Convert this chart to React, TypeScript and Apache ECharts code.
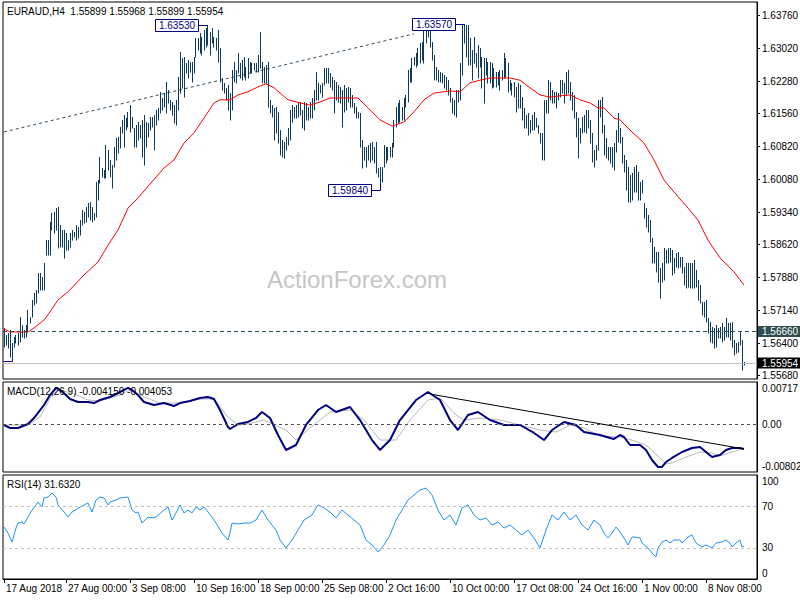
import React, { useEffect, useRef } from 'react';
import * as echarts from 'echarts';

// ---------- texts ----------
const symbolTitle = 'EURAUD,H4';
const lastOHLC = ['1.55899', '1.55968', '1.55899', '1.55954'];
const macdTitle = 'MACD(12,26,9)';
const macdLast = ['-0.004150', '-0.004053'];
const rsiTitle = 'RSI(14)';
const rsiLast = '31.6320';
const watermark = 'ActionForex.com';

// ---------- x axis ----------
const slotCount = 377;
const xLabelIndex = [0, 31, 63, 95, 127, 159, 191, 223, 255, 287, 319, 351];
const xLabels = ['17 Aug 2018', '27 Aug 00:00', '3 Sep 08:00', '10 Sep 16:00', '18 Sep 00:00', '25 Sep 08:00',
  '2 Oct 16:00', '10 Oct 00:00', '17 Oct 08:00', '24 Oct 16:00', '1 Nov 00:00', '8 Nov 08:00'];

// ---------- price panel ----------
const priceTicks = [1.6376, 1.6302, 1.6228, 1.6156, 1.6082, 1.6008, 1.5934, 1.5862, 1.5788, 1.5714, 1.5640, 1.5568];
const priceMin = 1.55595;
const priceMax = 1.64055;
const levelPrice = 1.5666;
const bidPrice = 1.55954;

const highs = [
  1.5674, 1.5658, 1.5663, 1.5670, 1.5640, 1.5654, 1.5658, 1.5663, 1.5699, 1.5681,
  1.5670, 1.5681, 1.5714, 1.5699, 1.5737, 1.5753, 1.5759, 1.5797, 1.5797, 1.5788,
  1.5820, 1.5871, 1.5871, 1.5912, 1.5932, 1.5934, 1.5943, 1.5945, 1.5905, 1.5894,
  1.5894, 1.5887, 1.5871, 1.5887, 1.5894, 1.5889, 1.5905, 1.5901, 1.5916, 1.5939,
  1.5934, 1.5945, 1.5954, 1.5957, 1.5945, 1.5932, 1.6002, 1.6006, 1.6058, 1.6033,
  1.6029, 1.6085, 1.6073, 1.6051, 1.6040, 1.6080, 1.6100, 1.6103, 1.6125, 1.6141,
  1.6152, 1.6145, 1.6159, 1.6174, 1.6147, 1.6123, 1.6129, 1.6136, 1.6129, 1.6141,
  1.6152, 1.6136, 1.6134, 1.6147,
  1.6147, 1.6152, 1.6163, 1.6168, 1.6204, 1.6190, 1.6201, 1.6226, 1.6208, 1.6186,
  1.6181, 1.6174, 1.6186, 1.6237, 1.6293, 1.6280, 1.6282, 1.6269, 1.6275, 1.6271,
  1.6271, 1.6282, 1.6325, 1.6325, 1.6336, 1.6327, 1.6343, 1.6347, 1.6353, 1.6338,
  1.6347, 1.6327, 1.6325, 1.6343, 1.6302, 1.6235, 1.6224, 1.6213, 1.6219, 1.6201,
  1.6253, 1.6271, 1.6253, 1.6291, 1.6269, 1.6275, 1.6282, 1.6260, 1.6280, 1.6271,
  1.6269, 1.6269, 1.6269, 1.6287, 1.6338, 1.6271, 1.6260, 1.6264, 1.6271, 1.6186,
  1.6174, 1.6168, 1.6170, 1.6159, 1.6118, 1.6096, 1.6091, 1.6103, 1.6123, 1.6163,
  1.6174, 1.6170, 1.6174, 1.6179, 1.6181,
  1.6163, 1.6181, 1.6179, 1.6170, 1.6181, 1.6190, 1.6208, 1.6248, 1.6224, 1.6219,
  1.6224, 1.6257, 1.6257, 1.6257, 1.6246, 1.6237, 1.6230, 1.6226, 1.6219, 1.6215,
  1.6208, 1.6219, 1.6213, 1.6215, 1.6213, 1.6197, 1.6179, 1.6170, 1.6159, 1.6156,
  1.6096, 1.6080, 1.6080, 1.6085, 1.6089, 1.6091, 1.6080, 1.6091, 1.6033, 1.6035,
  1.6035, 1.6085, 1.6080, 1.6080, 1.6080, 1.6089, 1.6141, 1.6170, 1.6179, 1.6186,
  1.6170, 1.6190, 1.6197, 1.6253, 1.6257, 1.6280, 1.6282, 1.6291, 1.6302, 1.6314,
  1.6316, 1.6354, 1.6355, 1.6354, 1.6349, 1.6316, 1.6287, 1.6260, 1.6253, 1.6248,
  1.6246, 1.6242, 1.6237, 1.6230, 1.6213,
  1.6190, 1.6186, 1.6208, 1.6208, 1.6269, 1.6355, 1.6357, 1.6355, 1.6355, 1.6325,
  1.6298, 1.6327, 1.6291, 1.6309, 1.6302, 1.6282, 1.6280, 1.6280, 1.6271, 1.6271,
  1.6269, 1.6257, 1.6248, 1.6248, 1.6253, 1.6253, 1.6291, 1.6280, 1.6269, 1.6230,
  1.6224, 1.6226, 1.6215, 1.6224, 1.6219, 1.6192, 1.6168, 1.6152, 1.6156, 1.6141,
  1.6152, 1.6159, 1.6145, 1.6129, 1.6112, 1.6112, 1.6186, 1.6186, 1.6230, 1.6226,
  1.6208, 1.6204, 1.6204, 1.6201, 1.6230, 1.6230, 1.6224, 1.6248, 1.6253, 1.6226,
  1.6204, 1.6197, 1.6159, 1.6145, 1.6123, 1.6147, 1.6152, 1.6163, 1.6163, 1.6141,
  1.6112, 1.6073, 1.6085, 1.6186, 1.6186,
  1.6192, 1.6129, 1.6100, 1.6080, 1.6080, 1.6080, 1.6089, 1.6118, 1.6156, 1.6123,
  1.6103, 1.6062, 1.6051, 1.6035, 1.6017, 1.6022, 1.6035, 1.6040, 1.6024, 1.6002,
  1.6006, 1.5954, 1.5943, 1.5928, 1.5916, 1.5876, 1.5856, 1.5845, 1.5845, 1.5809,
  1.5820, 1.5853, 1.5849, 1.5853, 1.5853, 1.5849, 1.5831, 1.5842, 1.5845, 1.5833,
  1.5833, 1.5811, 1.5820, 1.5820, 1.5820, 1.5820, 1.5827, 1.5804, 1.5782, 1.5770,
  1.5732, 1.5732, 1.5737, 1.5696, 1.5687, 1.5676, 1.5674, 1.5681, 1.5674, 1.5676,
  1.5685, 1.5676, 1.5696, 1.5685, 1.5685, 1.5687, 1.5647, 1.5640, 1.5643, 1.5665,
  1.5647, 1.5597,
];

const lows = [
  1.5631, 1.5636, 1.5629, 1.5609, 1.5602, 1.5631, 1.5640, 1.5636, 1.5643, 1.5654,
  1.5652, 1.5654, 1.5665, 1.5685, 1.5699, 1.5726, 1.5730, 1.5753, 1.5759, 1.5759,
  1.5759, 1.5838, 1.5838, 1.5838, 1.5894, 1.5887, 1.5894, 1.5853, 1.5856, 1.5856,
  1.5831, 1.5849, 1.5849, 1.5856, 1.5871, 1.5878, 1.5871, 1.5876, 1.5883, 1.5905,
  1.5910, 1.5912, 1.5923, 1.5916, 1.5912, 1.5916, 1.5923, 1.5961, 1.5999, 1.6013,
  1.6011, 1.6011, 1.6029, 1.6013, 1.5988, 1.6035, 1.6051, 1.6067, 1.6078, 1.6112,
  1.6080, 1.6118, 1.6125, 1.6114, 1.6123, 1.6080, 1.6080, 1.6096, 1.6100, 1.6058,
  1.6040, 1.6080, 1.6103, 1.6118,
  1.6125, 1.6073, 1.6129, 1.6141, 1.6156, 1.6163, 1.6170, 1.6156, 1.6179, 1.6163,
  1.6152, 1.6134, 1.6129, 1.6163, 1.6201, 1.6213, 1.6192, 1.6246, 1.6235, 1.6248,
  1.6226, 1.6246, 1.6282, 1.6298, 1.6291, 1.6287, 1.6298, 1.6305, 1.6309, 1.6287,
  1.6313, 1.6305, 1.6298, 1.6271, 1.6226, 1.6208, 1.6201, 1.6186, 1.6163, 1.6141,
  1.6163, 1.6226, 1.6224, 1.6246, 1.6235, 1.6230, 1.6237, 1.6230, 1.6235, 1.6246,
  1.6246, 1.6253, 1.6248, 1.6248, 1.6257, 1.6224, 1.6224, 1.6224, 1.6170, 1.6156,
  1.6147, 1.6096, 1.6112, 1.6089, 1.6062, 1.6058, 1.6055, 1.6073, 1.6085, 1.6096,
  1.6136, 1.6145, 1.6145, 1.6147, 1.6152,
  1.6123, 1.6118, 1.6141, 1.6141, 1.6145, 1.6145, 1.6163, 1.6186, 1.6186, 1.6201,
  1.6192, 1.6219, 1.6224, 1.6224, 1.6215, 1.6208, 1.6156, 1.6186, 1.6181, 1.6179,
  1.6125, 1.6159, 1.6163, 1.6181, 1.6170, 1.6170, 1.6156, 1.6145, 1.6145, 1.6080,
  1.6033, 1.6051, 1.6035, 1.6051, 1.6046, 1.6051, 1.6044, 1.6022, 1.6013, 1.5999,
  1.6002, 1.6035, 1.6044, 1.6051, 1.6058, 1.6058, 1.6080, 1.6125, 1.6134, 1.6136,
  1.6141, 1.6141, 1.6170, 1.6181, 1.6226, 1.6226, 1.6264, 1.6260, 1.6264, 1.6269,
  1.6275, 1.6269, 1.6314, 1.6327, 1.6305, 1.6275, 1.6230, 1.6230, 1.6226, 1.6226,
  1.6224, 1.6213, 1.6208, 1.6197, 1.6181,
  1.6156, 1.6152, 1.6147, 1.6181, 1.6186, 1.6242, 1.6314, 1.6282, 1.6264, 1.6264,
  1.6230, 1.6269, 1.6260, 1.6235, 1.6260, 1.6213, 1.6179, 1.6242, 1.6224, 1.6224,
  1.6213, 1.6215, 1.6215, 1.6219, 1.6208, 1.6230, 1.6235, 1.6237, 1.6204, 1.6208,
  1.6197, 1.6192, 1.6159, 1.6168, 1.6168, 1.6141, 1.6123, 1.6123, 1.6107, 1.6112,
  1.6118, 1.6118, 1.6125, 1.6112, 1.6089, 1.6051, 1.6051, 1.6156, 1.6156, 1.6186,
  1.6179, 1.6179, 1.6168, 1.6186, 1.6192, 1.6201, 1.6179, 1.6197, 1.6201, 1.6186,
  1.6163, 1.6145, 1.6103, 1.6055, 1.6089, 1.6112, 1.6114, 1.6112, 1.6123, 1.6089,
  1.6046, 1.6035, 1.6051, 1.6073, 1.6147,
  1.6112, 1.6062, 1.6055, 1.6051, 1.6044, 1.6035, 1.6029, 1.6069, 1.6091, 1.6089,
  1.6044, 1.6024, 1.5984, 1.5957, 1.5957, 1.5961, 1.5979, 1.5979, 1.5961, 1.5961,
  1.5977, 1.5921, 1.5901, 1.5889, 1.5867, 1.5820, 1.5820, 1.5800, 1.5777, 1.5741,
  1.5777, 1.5782, 1.5820, 1.5820, 1.5822, 1.5793, 1.5797, 1.5811, 1.5809, 1.5811,
  1.5797, 1.5770, 1.5764, 1.5766, 1.5764, 1.5764, 1.5764, 1.5766, 1.5737, 1.5730,
  1.5703, 1.5699, 1.5687, 1.5663, 1.5643, 1.5640, 1.5629, 1.5631, 1.5652, 1.5652,
  1.5643, 1.5647, 1.5654, 1.5654, 1.5647, 1.5631, 1.5613, 1.5618, 1.5620, 1.5636,
  1.5580, 1.5590,
];

// moving average [bar index, price]
const maPoints: [number, number][] = [
  [0, 1.5672], [3, 1.5665], [12, 1.5665], [15, 1.5674], [20, 1.5692], [23, 1.5710], [27, 1.5737],
  [32, 1.5755], [40, 1.5793], [47, 1.5822], [52, 1.5860], [57, 1.5894], [62, 1.5943], [67, 1.5966],
  [73, 1.5997], [80, 1.6033], [85, 1.6051], [90, 1.6089], [95, 1.6112], [100, 1.6145], [105, 1.6179],
  [108, 1.6186], [113, 1.6186], [117, 1.6197], [122, 1.6204], [127, 1.6215], [131, 1.6222], [135, 1.6213],
  [142, 1.6186], [148, 1.6179], [153, 1.6174], [158, 1.6181], [163, 1.6190], [177, 1.6190], [182, 1.6168],
  [188, 1.6141], [194, 1.6127], [200, 1.6136], [205, 1.6159], [210, 1.6186], [215, 1.6201], [223, 1.6206],
  [228, 1.6204], [233, 1.6224], [238, 1.6230], [243, 1.6235], [253, 1.6235], [258, 1.6230], [263, 1.6213],
  [268, 1.6197], [273, 1.6192], [278, 1.6195], [283, 1.6197], [288, 1.6186], [293, 1.6179], [297, 1.6168],
  [300, 1.6168], [305, 1.6145], [308, 1.6141], [313, 1.6118], [320, 1.6089], [325, 1.6051], [330, 1.6006],
  [335, 1.5979], [342, 1.5943], [347, 1.5916], [352, 1.5871], [358, 1.5831], [365, 1.5800], [370, 1.5770],
];

const trendPoints: [number, number][] = [[0, 1.6114], [205, 1.6334]];

const pivotBars = [4, 102, 188, 230];
const pivotPrices = [1.5600, 1.6353, 1.5984, 1.6357];
const pivotAnchors = [1.5602, 1.6353, 1.5999, 1.6357];
const pivotTexts = ['', '1.63530', '1.59840', '1.63570'];

// ---------- MACD panel ----------
const macdMin = -0.008027;
const macdMax = 0.00717;
const macdTicks = [0.00717, 0, -0.008027];
const macdTickTexts = ['0.00717', '0.00', '-0.008027'];

const macdMain: [number, number][] = [
  [0, -0.00009], [3, -0.0006], [7, -0.0006], [12, 0.00008], [15, 0.00109], [17, 0.00194], [20, 0.00329],
  [23, 0.00497], [26, 0.00616], [28, 0.00582], [31, 0.00497], [33, 0.0043], [37, 0.00379], [42, 0.00379],
  [45, 0.00362], [48, 0.00413], [53, 0.00464], [58, 0.00548], [62, 0.00616], [64, 0.00582], [67, 0.00497],
  [70, 0.00379], [75, 0.00329], [80, 0.00362], [85, 0.00312], [88, 0.00362], [93, 0.00396], [98, 0.00447],
  [102, 0.00464], [105, 0.0043], [108, 0.00244], [112, -0.00043], [113, -0.00077], [117, 0.00008],
  [122, 0.00042], [126, 0.00109], [129, 0.0021], [133, 0.00109], [137, -0.00178], [141, -0.00431],
  [146, -0.00347], [151, -0.00009], [157, 0.00244], [161, 0.00329], [166, 0.0021], [173, 0.00295],
  [178, 0.00075], [184, -0.00263], [188, -0.00431], [193, -0.00263], [198, 0.00075], [206, 0.00413],
  [212, 0.00548], [218, 0.00413], [223, 0.00075], [227, -0.00094], [232, 0.0016], [237, 0.0021],
  [243, 0.00075], [250, -0.00009], [258, -0.00009], [265, -0.00144], [270, -0.00263], [274, -0.00094],
  [280, 0.00042], [286, -0.00009], [290, -0.00127], [298, -0.00178], [303, -0.00229], [305, -0.00246],
  [308, -0.00178], [310, -0.00212], [313, -0.00347], [318, -0.00347], [321, -0.00431], [324, -0.006],
  [327, -0.00718], [329, -0.00718], [331, -0.00634], [334, -0.00566], [339, -0.00465], [344, -0.00398],
  [348, -0.00381], [351, -0.00465], [354, -0.0055], [358, -0.00516], [361, -0.00431], [364, -0.00398],
  [368, -0.00398], [370, -0.00415],
];

const macdSignal: [number, number][] = [
  [0, -0.00009], [12, -0.00009], [18, 0.00126], [24, 0.00497], [27, 0.00582], [34, 0.00531], [42, 0.00413],
  [48, 0.00396], [58, 0.00497], [63, 0.00582], [70, 0.00464], [78, 0.00362], [88, 0.00362], [98, 0.0043],
  [105, 0.0043], [112, 0.00126], [117, -0.00009], [122, 0.00008], [130, 0.00075], [141, -0.00094],
  [146, -0.00263], [153, -0.0006], [163, 0.0021], [173, 0.00244], [180, 0.00075], [188, -0.00263],
  [196, -0.00263], [203, 0.00075], [212, 0.00413], [218, 0.00447], [226, 0.0016], [230, 0.00075],
  [238, 0.00109], [248, 0.00075], [258, -0.00009], [268, -0.00094], [276, -0.00127], [283, -0.00009],
  [290, -0.0006], [298, -0.00195], [308, -0.00212], [314, -0.00263], [321, -0.00347], [328, -0.00566],
  [331, -0.00668], [334, -0.00651], [341, -0.0055], [348, -0.00465], [354, -0.00482], [358, -0.00533],
  [364, -0.00465], [370, -0.00405],
];

const macdTrend: [number, number][] = [[213, 0.00514], [370, -0.00414]];

// ---------- RSI panel ----------
const rsiTicks = [0, 30, 70, 100];
const rsiLevels = [30, 70];
const rsiPoints: [number, number][] = [
  [0, 50.0], [2, 44.2], [4, 35.6], [6, 49.0], [7, 53.8], [9, 54.8], [10, 52.9], [12, 59.6], [14, 66.3],
  [16, 71.2], [17, 74.0], [19, 69.2], [20, 77.9], [22, 78.8], [24, 82.7], [26, 78.8], [27, 71.2], [30, 64.4],
  [32, 59.6], [34, 64.4], [38, 69.2], [42, 73.1], [44, 64.4], [46, 76.0], [48, 78.8], [50, 77.9], [52, 71.2],
  [53, 74.0], [56, 76.0], [58, 77.9], [62, 78.8], [64, 66.3], [66, 63.5], [67, 64.4], [69, 53.8], [72, 59.6],
  [74, 58.7], [76, 59.6], [80, 66.3], [82, 69.2], [84, 56.7], [86, 63.5], [88, 71.2], [90, 63.5], [92, 66.3],
  [94, 63.5], [96, 69.2], [98, 66.3], [100, 69.2], [102, 64.4], [104, 59.6], [106, 53.8], [109, 44.2],
  [112, 37.5], [113, 44.2], [114, 53.8], [117, 52.9], [120, 53.8], [123, 53.8], [126, 56.7], [129, 66.3],
  [132, 56.7], [136, 47.1], [138, 37.5], [141, 29.8], [144, 37.5], [147, 47.1], [150, 56.7], [154, 61.5],
  [157, 71.2], [160, 68.3], [163, 64.4], [166, 58.7], [169, 66.3], [172, 61.5], [175, 56.7], [178, 51.9],
  [181, 37.5], [184, 32.7], [187, 26.0], [190, 32.7], [193, 42.3], [196, 56.7], [199, 66.3], [202, 76.0],
  [205, 80.8], [208, 85.6], [211, 87.5], [214, 80.8], [217, 66.3], [220, 56.7], [223, 61.5], [226, 51.9],
  [229, 68.3], [232, 71.2], [235, 61.5], [238, 56.7], [241, 58.7], [244, 51.9], [247, 54.8], [250, 49.0],
  [253, 51.9], [256, 47.1], [259, 42.3], [262, 47.1], [265, 39.4], [268, 29.8], [271, 47.1], [274, 61.5],
  [277, 56.7], [280, 64.4], [283, 56.7], [286, 61.5], [289, 51.9], [292, 47.1], [295, 56.7], [298, 51.9],
  [300, 44.2], [302, 39.4], [304, 44.2], [306, 50.0], [308, 45.2], [310, 39.4], [312, 32.7], [314, 40.4],
  [315, 40.4], [318, 39.4], [319, 34.6], [322, 29.8], [324, 25.0], [326, 21.2], [327, 29.8], [329, 35.6],
  [331, 37.5], [333, 34.6], [335, 37.5], [338, 37.5], [339, 34.6], [342, 40.4], [344, 42.3], [346, 34.6],
  [349, 30.8], [351, 32.7], [354, 29.8], [356, 34.6], [359, 35.6], [361, 37.5], [363, 34.6], [364, 30.8],
  [366, 34.6], [368, 37.5], [369, 30.8], [370, 31.6],
];

// ---------- styling ----------
const FONT = 'Liberation Sans';
const barColor = '#0e3a5c';
const labelFontCss = `10px "${FONT}"`;

function buildOption(): any {
  const categories = Array.from({ length: slotCount }, (_, i) => String(i));
  const labelAt: Record<number, string> = {};
  xLabelIndex.forEach((idx, k) => { labelAt[idx] = xLabels[k]; });
  const isLabel = (idx: number) => labelAt[idx] !== undefined;

  const grids = [
    { left: 3, top: 2, width: 754, height: 377 },
    { left: 3, top: 382, width: 754, height: 90 },
    { left: 3, top: 475, width: 754, height: 104 },
  ].map((g) => ({ ...g, show: true, borderColor: '#000', borderWidth: 1, backgroundColor: '#fff', containLabel: false, outerBoundsMode: 'none' }));

  const xAxes = [0, 1, 2].map((gi) => ({
    type: 'category',
    gridIndex: gi,
    data: categories,
    boundaryGap: true,
    axisLine: { show: gi === 2, lineStyle: { color: '#000' } },
    axisTick: {
      show: gi === 2,
      alignWithLabel: true,
      interval: (idx: number) => isLabel(idx),
      length: 4,
      lineStyle: { color: '#000' },
    },
    axisLabel: {
      show: gi === 2,
      interval: (idx: number) => isLabel(idx),
      formatter: (_v: string, idx: number) => labelAt[idx] ?? '',
      align: 'left',
      margin: 4,
      padding: [0, 0, 0, 2],
      color: '#000',
      fontSize: 10,
      fontFamily: FONT,
    },
    splitLine: { show: false },
  }));

  const edgeRich = {
    t: { padding: [12, 0, 0, 0], color: '#000', fontSize: 10, fontFamily: FONT },
    b: { padding: [0, 0, 12, 0], color: '#000', fontSize: 10, fontFamily: FONT },
    m: { color: '#000', fontSize: 10, fontFamily: FONT },
  };

  const yAxes = [
    {
      type: 'value', gridIndex: 0, position: 'right', min: priceMin, max: priceMax,
      axisLine: { show: true, lineStyle: { color: '#000' } },
      axisTick: { show: true, length: 3, customValues: priceTicks, lineStyle: { color: '#000' } },
      axisLabel: {
        customValues: priceTicks, formatter: (v: number) => v.toFixed(5),
        color: '#000', fontSize: 10, fontFamily: FONT, margin: 5,
      },
      splitLine: { show: false },
    },
    {
      type: 'value', gridIndex: 1, position: 'right', min: macdMin, max: macdMax,
      axisLine: { show: true, lineStyle: { color: '#000' } },
      axisTick: { show: false, customValues: macdTicks },
      axisLabel: {
        customValues: macdTicks,
        formatter: (v: number) => {
          const k = macdTicks.findIndex((t) => Math.abs(t - v) < 1e-9);
          const txt = k >= 0 ? macdTickTexts[k] : '';
          if (k === 0) return `{t|${txt}}`;
          if (k === macdTicks.length - 1) return `{b|${txt}}`;
          return `{m|${txt}}`;
        },
        rich: edgeRich, margin: 5,
      },
      splitLine: { show: false },
    },
    {
      type: 'value', gridIndex: 2, position: 'right', min: 0, max: 100,
      axisLine: { show: true, lineStyle: { color: '#000' } },
      axisTick: { show: false, customValues: rsiTicks },
      axisLabel: {
        customValues: rsiTicks,
        formatter: (v: number) => {
          if (v >= 100) return `{t|${v}}`;
          if (v <= 0) return `{b|${v}}`;
          return `{m|${v}}`;
        },
        rich: edgeRich, margin: 5,
      },
      splitLine: { show: false },
    },
  ];

  const priceLabel = (bg: string) => ({
    show: true, position: 'end', distance: 1,
    backgroundColor: bg, color: '#fff', padding: [1, 4, 0, 4],
    fontSize: 10, fontFamily: FONT,
  });

  const series: any[] = [
    {
      type: 'custom', name: 'bars', xAxisIndex: 0, yAxisIndex: 0, clip: true, z: 3,
      data: highs.map((h, i) => [i, lows[i], h]),
      encode: { x: 0, y: [1, 2] },
      renderItem: (_params: any, api: any) => {
        const i = api.value(0);
        const lo = api.coord([i, api.value(1)]);
        const hi = api.coord([i, api.value(2)]);
        const x = Math.floor(lo[0]) + 0.5;
        const y1 = Math.round(lo[1]) + 0.5;
        let y2 = Math.round(hi[1]);
        if (y1 - y2 < 1) y2 = y1 - 1;
        return { type: 'line', shape: { x1: x, y1, x2: x, y2 }, style: { stroke: barColor, lineWidth: 1 } };
      },
    },
    {
      type: 'line', name: 'ma', xAxisIndex: 0, yAxisIndex: 0, data: maPoints, symbol: 'none', z: 4,
      lineStyle: { color: '#ff0000', width: 1 },
      markLine: {
        silent: true, symbol: ['none', 'none'], animation: false, precision: 5,
        data: [
          { yAxis: levelPrice, lineStyle: { color: '#2f4f4f', type: [4, 3], width: 1 }, label: { ...priceLabel('#2f4f4f'), formatter: levelPrice.toFixed(5) } },
          { yAxis: bidPrice, lineStyle: { color: '#c0c0c0', type: 'solid', width: 1 }, label: { ...priceLabel('#000'), formatter: bidPrice.toFixed(5) } },
        ],
      },
    },
    {
      type: 'line', name: 'trend', xAxisIndex: 0, yAxisIndex: 0, data: trendPoints, symbol: 'none', z: 2,
      lineStyle: { color: '#2f4f4f', width: 1, type: [3, 3] },
    },
    {
      type: 'custom', name: 'pivots', xAxisIndex: 0, yAxisIndex: 0, clip: true, z: 6,
      data: pivotBars.map((b, k) => [b, pivotPrices[k], pivotAnchors[k]]),
      encode: { x: 0, y: [1, 2] },
      renderItem: (params: any, api: any) => {
        const i = api.value(0);
        const lp = api.coord([i, api.value(1)]);
        const ap = api.coord([i, api.value(2)]);
        const bx = Math.floor(lp[0]) + 0.5;
        const ly = Math.round(lp[1]) + 0.5;
        const ay = Math.round(ap[1]);
        const bw = 43, bh = 12, gap = 9;
        const right = bx - gap;
        const txt = pivotTexts[params.dataIndex];
        const children: any[] = [
          { type: 'polyline', shape: { points: [[right, ly], [bx, ly], [bx, ay]] }, style: { stroke: '#000080', fill: null, lineWidth: 1 } },
        ];
        if (txt) {
          children.push(
            { type: 'rect', shape: { x: right - bw, y: ly - bh / 2, width: bw, height: bh }, style: { fill: '#fff', stroke: '#000080', lineWidth: 1 } },
            { type: 'text', x: right - bw / 2, y: ly, style: { text: txt, fill: '#000080', font: labelFontCss, align: 'center', verticalAlign: 'middle' } },
          );
        }
        return { type: 'group', children };
      },
    },
    {
      type: 'line', name: 'signal', xAxisIndex: 1, yAxisIndex: 1, data: macdSignal, symbol: 'none', z: 3,
      lineStyle: { color: '#b8b8b8', width: 1 },
      markLine: {
        silent: true, symbol: ['none', 'none'], animation: false, label: { show: false }, precision: 6,
        data: [{ yAxis: 0, lineStyle: { color: '#505050', type: [3, 3], width: 1 } }],
      },
    },
    {
      type: 'line', name: 'macd', xAxisIndex: 1, yAxisIndex: 1, data: macdMain, symbol: 'none', z: 4,
      lineStyle: { color: '#000080', width: 2 },
    },
    {
      type: 'line', name: 'macdTrend', xAxisIndex: 1, yAxisIndex: 1, data: macdTrend, symbol: 'none', z: 5,
      lineStyle: { color: '#000', width: 1 },
    },
    {
      type: 'line', name: 'rsi', xAxisIndex: 2, yAxisIndex: 2, data: rsiPoints, symbol: 'none', z: 4,
      lineStyle: { color: '#1e90ff', width: 1 },
      markLine: {
        silent: true, symbol: ['none', 'none'], animation: false, label: { show: false }, precision: 2,
        data: rsiLevels.map((v) => ({ yAxis: v, lineStyle: { color: '#c0c0c0', type: [3, 3], width: 1 } })),
      },
    },
  ];

  const graphic = [
    {
      type: 'text', x: 357, y: 279, z: 1, silent: true,
      style: { text: watermark, font: `24px "${FONT}"`, fill: '#c6c6c6', align: 'center', verticalAlign: 'middle' },
    },
    {
      type: 'text', x: 7, y: 11, z: 100, silent: true,
      style: { text: `${symbolTitle}  ${lastOHLC.join(' ')}`, font: labelFontCss, fill: '#000', verticalAlign: 'middle' },
    },
    {
      type: 'text', x: 7, y: 391, z: 100, silent: true,
      style: { text: `${macdTitle} ${macdLast.join(' ')}`, font: labelFontCss, fill: '#000', verticalAlign: 'middle' },
    },
    {
      type: 'text', x: 7, y: 484, z: 100, silent: true,
      style: { text: `${rsiTitle} ${rsiLast}`, font: labelFontCss, fill: '#000', verticalAlign: 'middle' },
    },
  ];

  return {
    animation: false,
    backgroundColor: '#fff',
    textStyle: { fontFamily: FONT },
    grid: grids,
    xAxis: xAxes,
    yAxis: yAxes,
    series,
    graphic,
  };
}

export default function App() {
  const ref = useRef<HTMLDivElement>(null);
  useEffect(() => {
    if (!ref.current) return;
    const chart = echarts.init(ref.current, undefined, { renderer: 'svg' });
    chart.setOption(buildOption());
    return () => chart.dispose();
  }, []);
  return (
    <div
      ref={ref}
      style={{ position: 'absolute', left: 0, top: 0, width: 800, height: 600, background: '#fff' }}
    />
  );
}
